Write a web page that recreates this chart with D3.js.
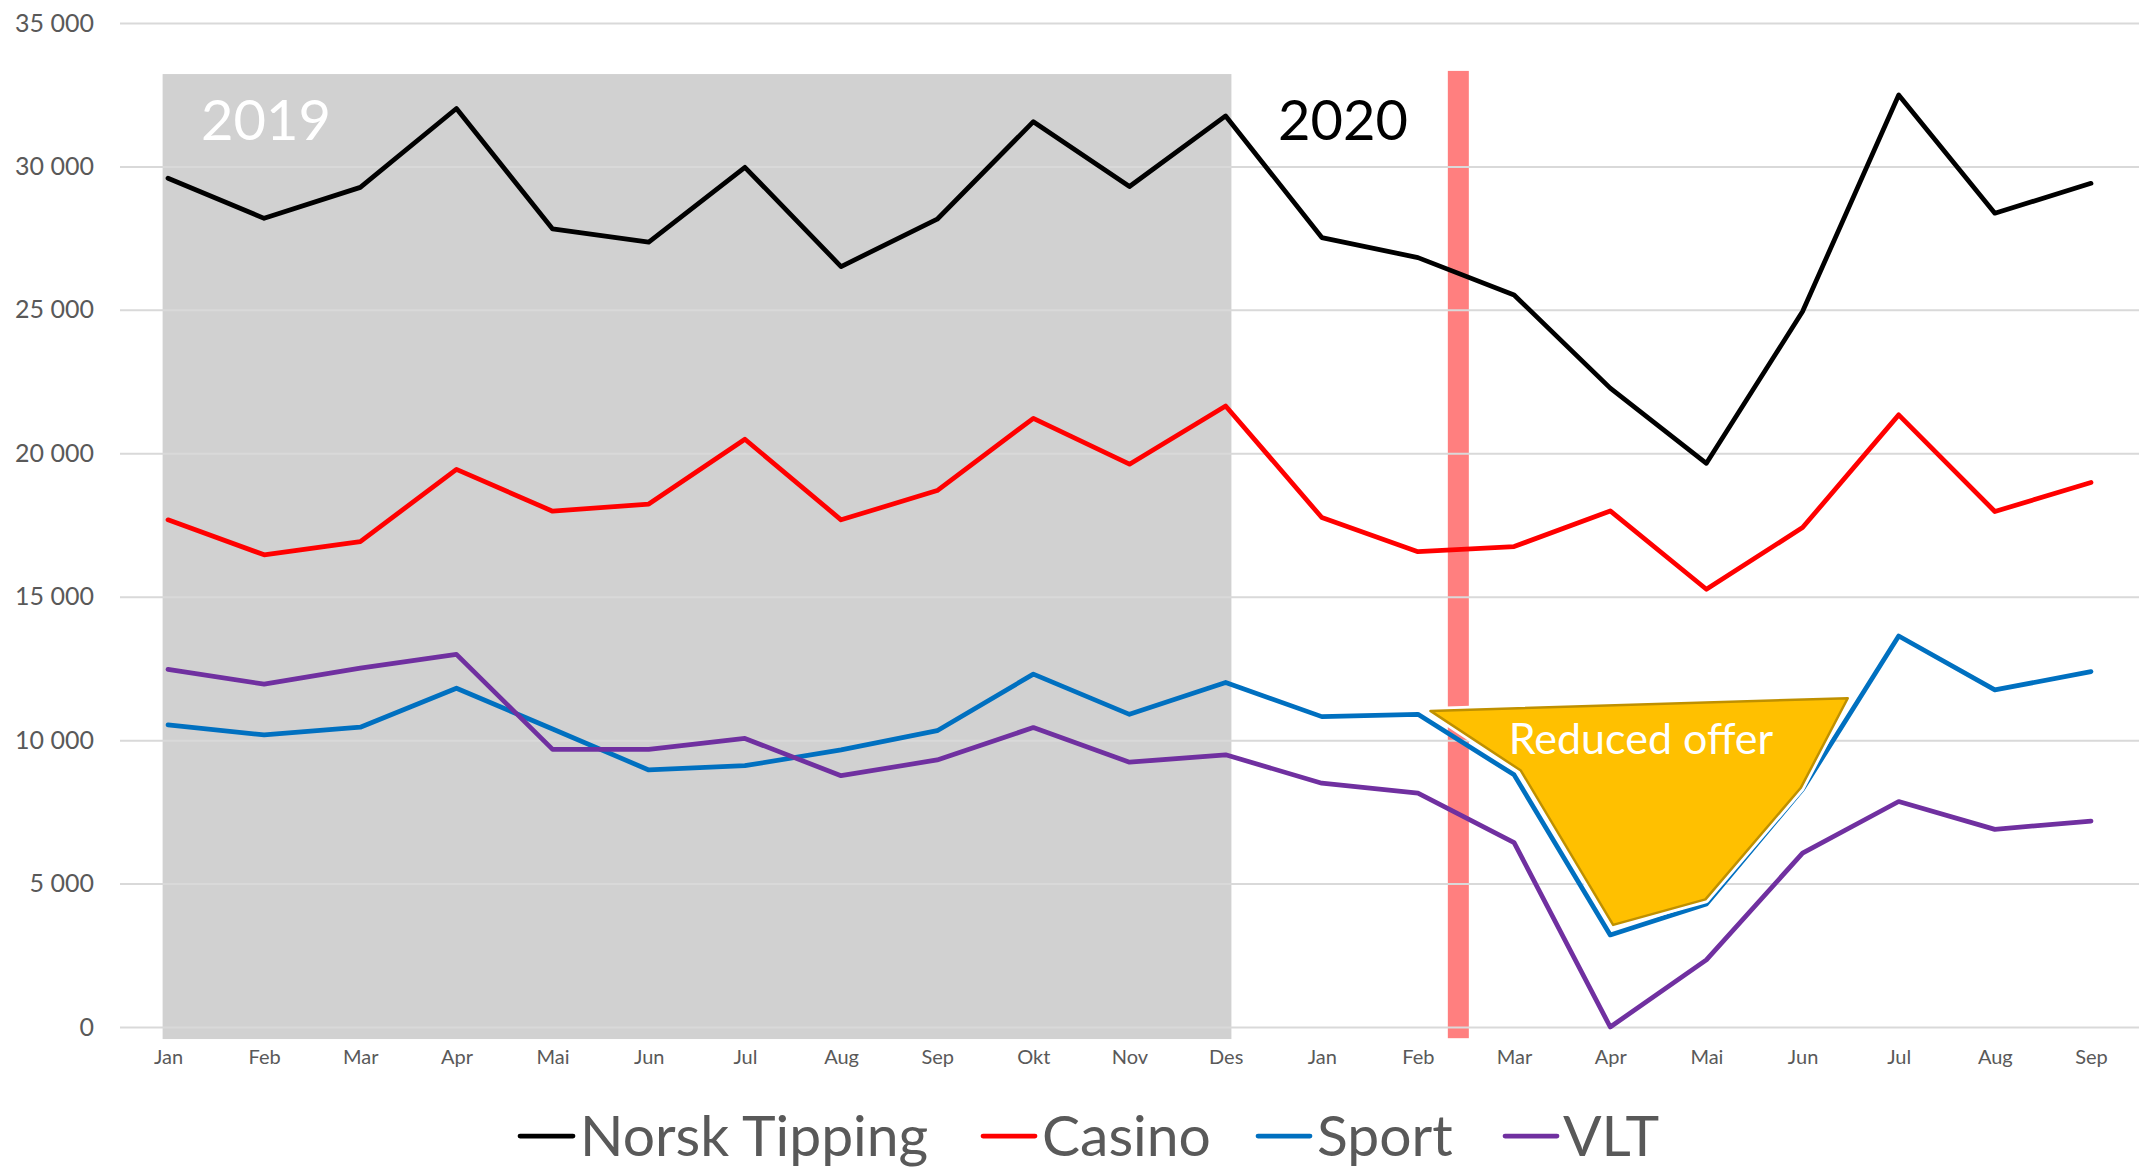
<!DOCTYPE html>
<html>
<head>
<meta charset="utf-8">
<script src="https://cdn.jsdelivr.net/npm/d3@7"></script>
<style>
  html, body { margin: 0; padding: 0; background: #ffffff; }
  svg { display: block; font-family: "Lato", "Open Sans", sans-serif; }
</style>
</head>
<body>
<svg id="chart" width="2141" height="1168"></svg>
<script>
// ---- Data ----
const months = ["Jan","Feb","Mar","Apr","Mai","Jun","Jul","Aug","Sep","Okt","Nov","Des",
                "Jan","Feb","Mar","Apr","Mai","Jun","Jul","Aug","Sep"];
const norskTipping = [29590,28190,29270,32020,27820,27360,29970,26510,28160,31560,29300,31760,
                      27520,26820,25520,22270,19650,24940,32490,28370,29410];
const casino = [17680,16460,16920,19440,17980,18230,20490,17680,18700,21220,19620,21650,
                17760,16570,16750,17990,15260,17410,21340,17970,18980];
const sport = [10530,10180,10450,11810,10390,8960,9110,9660,10330,12300,10900,12010,
               10820,10900,8790,3210,4290,8290,13630,11750,12390];
const vlt = [12470,11950,12510,12990,9680,9680,10060,8760,9310,10440,9230,9490,
             8500,8150,6430,0,2340,6060,7860,6890,7180];
const yTicks = [0,5000,10000,15000,20000,25000,30000,35000];
const seriesNames = ["Norsk Tipping","Casino","Sport","VLT"];
const yearLabels = ["2019","2020"];
const annotationText = "Reduced offer";

// annotation geometry in data units (category index, value)
const period2019 = { from: -0.056, to: 11.06, top: 33220, bottom: -420 };
const lockdownMarker = { at: 13.42, top: 33330, bottom: -390 };
const reducedOffer = [[13.13,11020],[17.47,11460],[16.98,8330],[15.99,4450],[15.03,3560],[14.07,8940]];

// ---- Layout ----
const svg = d3.select("#chart");
const plotLeft = 120, plotRight = 2139;
const x = d3.scaleLinear().domain([0, months.length - 1]).range([168, 2091]);
const y = d3.scaleLinear().domain([0, 35000]).range([1027, 23]);
const colors = ["#000000", "#FF0000", "#0070C0", "#7030A0"];
const series = [norskTipping, casino, sport, vlt];

const locale = d3.formatLocale({decimal: ",", thousands: " ", grouping: [3], currency: ["", ""]});
const fmt = locale.format(",d");

// gray 2019 background
svg.append("rect")
  .attr("x", x(period2019.from)).attr("y", y(period2019.top))
  .attr("width", x(period2019.to) - x(period2019.from))
  .attr("height", y(period2019.bottom) - y(period2019.top))
  .attr("fill", "#D1D1D1");

// red vertical marker
const markerW = 21;
svg.append("rect")
  .attr("x", x(lockdownMarker.at) - markerW / 2).attr("y", y(lockdownMarker.top))
  .attr("width", markerW)
  .attr("height", y(lockdownMarker.bottom) - y(lockdownMarker.top))
  .attr("fill", "#FF7F7F");

// y axis with gridlines
const yAxis = svg.append("g")
  .attr("transform", `translate(${plotLeft},0)`)
  .call(d3.axisLeft(y).tickValues(yTicks).tickFormat(fmt)
        .tickSize(-(plotRight - plotLeft)).tickPadding(26));
yAxis.select(".domain").remove();
yAxis.selectAll(".tick line").attr("stroke", "#D9D9D9").attr("stroke-width", 2);
yAxis.selectAll(".tick text")
  .attr("fill", "#595959").attr("font-size", 25)
  .attr("font-family", "Lato, 'Open Sans', sans-serif");

// x axis labels
const xAxis = svg.append("g")
  .attr("transform", `translate(0,1049)`)
  .call(d3.axisBottom(x).tickValues(d3.range(months.length))
        .tickFormat(i => months[i]).tickSize(0).tickPadding(0));
xAxis.select(".domain").remove();
xAxis.selectAll(".tick text")
  .attr("fill", "#595959").attr("font-size", 20)
  .attr("font-family", "Lato, 'Open Sans', sans-serif")
  .attr("dy", "0.75em");

// lines
const line = d3.line().x((d, i) => x(i)).y(d => y(d));
series.forEach((s, k) => {
  svg.append("path")
    .attr("d", line(s))
    .attr("fill", "none")
    .attr("stroke", colors[k])
    .attr("stroke-width", 4.75)
    .attr("stroke-linejoin", "round")
    .attr("stroke-linecap", "round");
});

// reduced offer polygon
const poly = d3.line().x(d => x(d[0])).y(d => y(d[1])).curve(d3.curveLinearClosed);
svg.append("path").attr("d", poly(reducedOffer))
  .attr("fill", "none").attr("stroke", "#FFFFFF").attr("stroke-width", 8)
  .attr("stroke-linejoin", "round");
svg.append("path").attr("d", poly(reducedOffer))
  .attr("fill", "#FFC000").attr("stroke", "#BF9000").attr("stroke-width", 2.5)
  .attr("stroke-linejoin", "round");
svg.append("text")
  .attr("x", 1641).attr("y", 754)
  .attr("text-anchor", "middle")
  .attr("font-size", 43)
  .attr("fill", "#FFFFFF")
  .text(annotationText);

// year labels
svg.append("text").attr("x", 201).attr("y", 140)
  .attr("font-size", 56).attr("fill", "#FFFFFF").text(yearLabels[0]);
svg.append("text").attr("x", 1278).attr("y", 140)
  .attr("font-size", 56).attr("fill", "#000000").text(yearLabels[1]);

// legend
const legendItems = [
  { x1: 520, x2: 573, tx: 580 },
  { x1: 983, x2: 1035, tx: 1042 },
  { x1: 1258, x2: 1310, tx: 1317 },
  { x1: 1505, x2: 1557, tx: 1563 }
];
const legend = svg.append("g");
legendItems.forEach((it, k) => {
  legend.append("line")
    .attr("x1", it.x1).attr("x2", it.x2).attr("y1", 1136).attr("y2", 1136)
    .attr("stroke", colors[k]).attr("stroke-width", 4.75).attr("stroke-linecap", "round");
  legend.append("text")
    .attr("x", it.tx).attr("y", 1156)
    .attr("font-size", 57).attr("fill", "#595959")
    .text(seriesNames[k]);
});
</script>
</body>
</html>
